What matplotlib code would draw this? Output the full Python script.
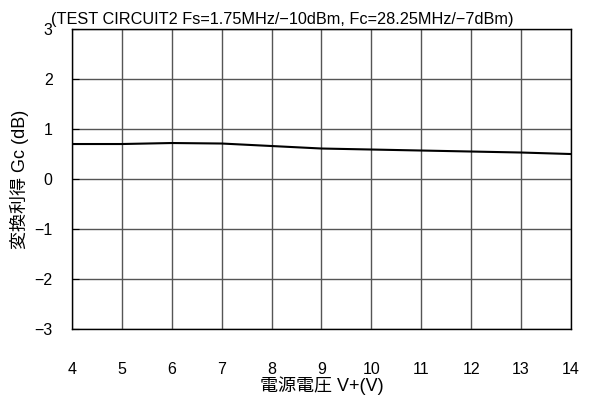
import numpy as np
import matplotlib.pyplot as plt

plt.rcParams['font.family'] = ['Liberation Sans', 'Noto Sans CJK JP', 'DejaVu Sans']

voltage = [4, 5, 6, 7, 8, 9, 10, 11, 12, 13, 14]
gain = [0.70, 0.70, 0.72, 0.71, 0.66, 0.61, 0.59, 0.57, 0.55, 0.53, 0.50]
x_ticks = [4, 5, 6, 7, 8, 9, 10, 11, 12, 13, 14]
y_ticks = [-3, -2, -1, 0, 1, 2, 3]

fig = plt.figure(figsize=(5.98, 3.96), dpi=100)
ax = fig.add_axes([0.1204, 0.169, 0.8344, 0.7578])

ax.plot(voltage, gain, color='black', linewidth=1.5)

ax.set_xlim(4, 14)
ax.set_ylim(-3, 3)
ax.set_xticks(x_ticks)
ax.set_yticks(y_ticks)
ax.set_yticklabels([f"{v}".replace('-', '\u2212') for v in y_ticks])
ax.grid(True, color='#555555', linewidth=1.0)
ax.tick_params(axis='x', length=0, pad=24, labelsize=11.5)
ax.tick_params(axis='y', direction='in', length=5, pad=14, labelsize=11.5)
for s in ax.spines.values():
    s.set_color('black')
    s.set_linewidth(1.0)

ax.set_xlabel("電源電圧 V+(V)", fontsize=13, labelpad=-1)
ax.set_ylabel("変換利得 Gc (dB)", fontsize=13, labelpad=4)
fig.text(0.086, 0.939, "(TEST CIRCUIT2 Fs=1.75MHz/\u221210dBm, Fc=28.25MHz/\u22127dBm)",
         fontsize=11.7, va='baseline')

fig.savefig("out.png", dpi=100)
